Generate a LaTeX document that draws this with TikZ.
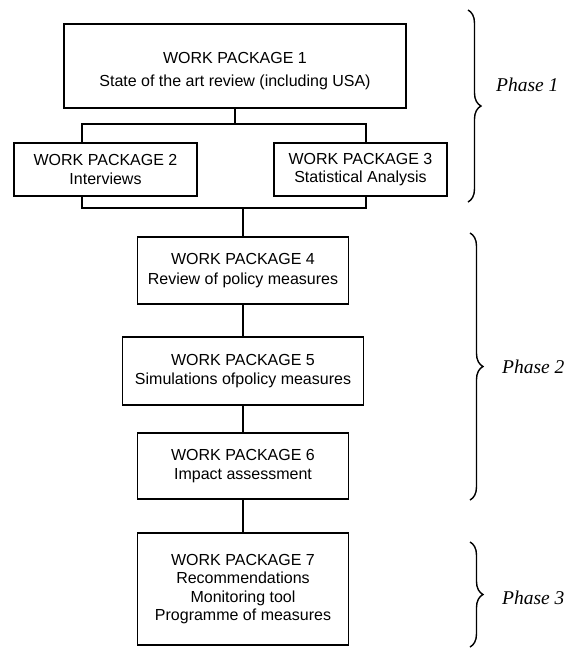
\documentclass[tikz,border=0pt]{standalone}
\usepackage{fontspec}
\setmainfont{Liberation Sans}
\newfontfamily\phasefont{Liberation Serif}
\usetikzlibrary{decorations.pathreplacing}

\begin{document}
\begin{tikzpicture}[x=1pt,y=-1pt,
      font=\fontsize{16}{18.5}\selectfont,
      wp/.style={rectangle,draw=black,line width=1.5pt,align=center,inner sep=2pt,
                 minimum width=211pt,minimum height=67pt},
      link/.style={line width=1.8pt},
      brc/.style={decorate,decoration={brace,amplitude=13pt},line width=1.4pt},
      phase/.style={anchor=west,inner sep=0pt,
                    font=\phasefont\itshape\fontsize{19.5}{22}\selectfont}]
    \useasboundingbox (0,0) rectangle (570,649);

    % ---------- phase 1 : review, interviews, statistics ----------
    \node[wp,minimum width=342pt,minimum height=84pt] (wp1) at (235,66)
      {\rule{0pt}{21pt}WORK PACKAGE 1\\[5pt]State of the art review (including USA)};
    \node[wp,minimum width=183pt,minimum height=53pt] (wp2) at (105.5,169.5)
      {WORK PACKAGE 2\\Interviews};
    \node[wp,minimum width=173pt,minimum height=53pt] (wp3) at (360.5,169.5)
      {WORK PACKAGE 3\\Statistical Analysis};
    \coordinate (busTL) at (82,124);
    \coordinate (busTR) at (366,124);
    \coordinate (busBL) at (82,208);
    \coordinate (busBR) at (366,208);
    \draw[link] (wp1.south) -- (wp1.south |- busTL);
    \draw[link] (wp2.north -| busTL) -- (busTL) -- (busTR) -- (busTR |- wp3.north);
    \draw[link] (wp2.south -| busBL) -- (busBL) -- (busBR) -- (busBR |- wp3.south);

    % ---------- phase 2 : policy measures ----------
    \node[wp,minimum height=67pt] (wp4) at (243,270.5)
      {WORK PACKAGE 4\\[1.5pt]Review of policy measures};
    \node[wp,minimum width=241pt,minimum height=68pt] (wp5) at (243,371)
      {WORK PACKAGE 5\\Simulations ofpolicy measures};
    \node[wp,minimum height=66pt] (wp6) at (243,466)
      {WORK PACKAGE 6\\Impact assessment};
    \draw[link] (wp4.north |- busBL) -- (wp4.north);

    % ---------- phase 3 : outputs ----------
    \node[wp,minimum height=112pt] (wp7) at (243,589)
      {WORK PACKAGE 7\\Recommendations\\Monitoring tool\\Programme of measures};
    \foreach \a/\b in {wp4/wp5,wp5/wp6,wp6/wp7} \draw[link] (\a.south) -- (\b.north);

    % ---------- phase braces ----------
    \draw[brc] (468,10) -- (468,202);
    \node[phase] (ph1) at (496,85) {Phase 1};
    \draw[brc] (470,233) -- (470,500);
    \node[phase] (ph2) at (502,367) {Phase 2};
    \draw[brc] (470,542) -- (470,647);
    \node[phase] (ph3) at (502,598) {Phase 3};
  \end{tikzpicture}
\end{document}
